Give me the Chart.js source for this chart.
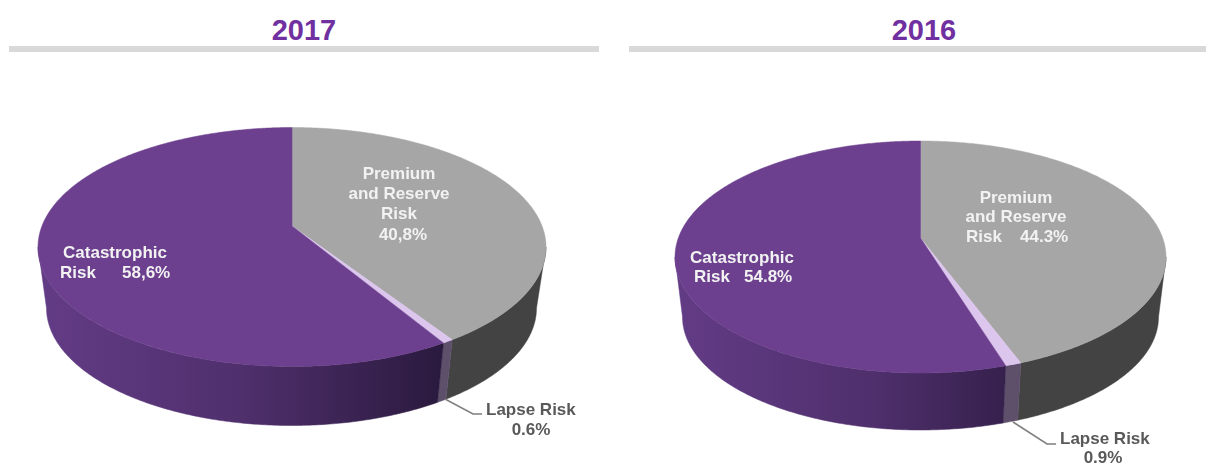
<!DOCTYPE html>
<html>
<head>
<meta charset="utf-8">
<title>Risk breakdown</title>
<script src="https://cdn.jsdelivr.net/npm/chart.js@4"></script>
<style>
  html, body { margin: 0; padding: 0; background: #fff; overflow: hidden; }
  body { width: 1206px; height: 463px; position: relative; font-family: "Liberation Sans", Arial, sans-serif; }
  .year { position: absolute; top: 12px; color: #7030a0; font-size: 29px; font-weight: bold; line-height: 36px; text-align: center; }
  .rule { position: absolute; top: 46px; height: 6px; background: #d9d9d9; }
  canvas { position: absolute; top: 0; }
</style>
</head>
<body>
<div class="year" style="left:9px;width:590px">2017</div>
<div class="rule" style="left:9px;width:590px"></div>
<div class="year" style="left:629px;width:590px">2016</div>
<div class="rule" style="left:629px;width:577px"></div>
<canvas id="pie2017"></canvas>
<canvas id="pie2016"></canvas>
<script>
const categories = ["Premium and Reserve Risk", "Lapse Risk", "Catastrophic Risk"];
const values2017 = [40.8, 0.6, 58.6];
const values2016 = [44.3, 0.9, 54.8];

const topColors = ["#a6a6a6", "#dcc6ee", "#6c408e"];
const sideColors = ["#434343", "#5e4f6b", null];
const purpleSideStops = [[0, "#623b85"], [0.4, "#4f2f6c"], [0.8, "#2b1a3f"], [1, "#2b1a3f"]];

const white = "#f2f2f2";
const grey = "#595959";

// top/bottom are the two faces of the disc, apex is how far the slice point sits above the ellipse centre
const layout2017 = {
  left: 0,
  width: 603,
  top: { cx: 292, cy: 247, rx: 254, ry: 119.5, apex: -21 },
  bottom: { cx: 291.5, cy: 308, rx: 245, ry: 117.5, apex: -20.6 },
  leader: [[445, 399], [473, 414], [482, 414]],
  labels: [
    { text: "Premium", x: 399, y: 179, align: "center", color: white },
    { text: "and Reserve", x: 399, y: 199, align: "center", color: white },
    { text: "Risk", x: 399, y: 219, align: "center", color: white },
    { text: "40,8%", x: 403, y: 240, align: "center", color: white },
    { text: "Catastrophic", x: 115, y: 258, align: "center", color: white },
    { text: "Risk", x: 60, y: 278, align: "left", color: white },
    { text: "58,6%", x: 122, y: 278, align: "left", color: white },
    { text: "Lapse Risk", x: 486, y: 415, align: "left", color: grey },
    { text: "0.6%", x: 531, y: 435, align: "center", color: grey },
  ],
};

const layout2016 = {
  left: 603,
  width: 603,
  top: { cx: 920.5, cy: 257, rx: 245.5, ry: 116, apex: -19 },
  bottom: { cx: 920.5, cy: 317, rx: 238, ry: 113, apex: -18.5 },
  leader: [[1013, 422], [1047, 444], [1056, 444]],
  labels: [
    { text: "Premium", x: 1016, y: 203, align: "center", color: white },
    { text: "and Reserve", x: 1016, y: 222, align: "center", color: white },
    { text: "Risk", x: 966, y: 242, align: "left", color: white },
    { text: "44.3%", x: 1020, y: 242, align: "left", color: white },
    { text: "Catastrophic", x: 742, y: 263, align: "center", color: white },
    { text: "Risk", x: 694, y: 282, align: "left", color: white },
    { text: "54.8%", x: 744, y: 282, align: "left", color: white },
    { text: "Lapse Risk", x: 1060, y: 444, align: "left", color: grey },
    { text: "0.9%", x: 1103, y: 463, align: "center", color: grey },
  ],
};

// perspective map of a unit disc onto an ellipse, keeps slice edges straight
function project(face, angle) {
  const u = Math.cos(angle);
  const v = Math.sin(angle);
  const c = face.apex / face.ry;
  const w = 1 + c * v;
  return {
    x: face.cx + (face.rx * Math.sqrt(1 - c * c) * u) / w,
    y: face.cy + (face.ry * v + face.apex) / w,
  };
}

function steps(from, to) {
  const n = Math.max(2, Math.ceil((to - from) / 0.01));
  const out = [];
  for (let i = 0; i <= n; i++) out.push(from + ((to - from) * i) / n);
  return out;
}

function drawSide(ctx, view, arc, index) {
  const limit = Math.asin(-view.top.apex / view.top.ry);
  const from = Math.max(arc.startAngle, limit);
  const to = Math.min(arc.endAngle, Math.PI - limit);
  if (to <= from) return;

  let fill = sideColors[index];
  if (!fill) {
    fill = ctx.createLinearGradient(view.bottom.cx - view.bottom.rx, 0, view.bottom.cx + view.bottom.rx, 0);
    // the dark end sits on the right, so the stops run along x
    purpleSideStops.forEach(([at, color]) => fill.addColorStop(at, color));
  }

  const angles = steps(from, to);
  ctx.beginPath();
  angles.forEach((a, i) => {
    const p = project(view.top, a);
    if (i === 0) ctx.moveTo(p.x, p.y);
    else ctx.lineTo(p.x, p.y);
  });
  angles.reverse().forEach((a) => {
    const p = project(view.bottom, a);
    ctx.lineTo(p.x, p.y);
  });
  ctx.closePath();
  ctx.fillStyle = fill;
  ctx.strokeStyle = fill;
  ctx.lineWidth = 0.5;
  ctx.fill();
  ctx.stroke();
}

function drawTop(ctx, view, arc) {
  ctx.beginPath();
  ctx.moveTo(view.top.cx, view.top.cy + view.top.apex);
  steps(arc.startAngle, arc.endAngle).forEach((a) => {
    const p = project(view.top, a);
    ctx.lineTo(p.x, p.y);
  });
  ctx.closePath();
  ctx.fillStyle = arc.options.backgroundColor;
  ctx.strokeStyle = arc.options.backgroundColor;
  ctx.lineWidth = 0.5;
  ctx.fill();
  ctx.stroke();
}

const tiltedPie = {
  id: "tiltedPie",
  beforeDatasetDraw(chart, args, opts) {
    const ctx = chart.ctx;
    const view = opts.view;
    ctx.save();
    ctx.translate(-view.left, 0);
    args.meta.data.forEach((arc, i) => drawSide(ctx, view, arc, i));
    args.meta.data.forEach((arc) => drawTop(ctx, view, arc));

    ctx.beginPath();
    view.leader.forEach(([x, y], i) => (i === 0 ? ctx.moveTo(x, y) : ctx.lineTo(x, y)));
    ctx.strokeStyle = "#7f7f7f";
    ctx.lineWidth = 1.5;
    ctx.stroke();

    ctx.font = 'bold 17px "Liberation Sans", Arial, sans-serif';
    ctx.textBaseline = "alphabetic";
    view.labels.forEach((label) => {
      ctx.textAlign = label.align;
      ctx.fillStyle = label.color;
      ctx.fillText(label.text, label.x, label.y);
    });
    ctx.restore();
    return false;
  },
};

function buildPie(id, values, view) {
  const el = document.getElementById(id);
  el.style.left = `${view.left}px`;
  el.width = view.width;
  el.height = 463;
  return new Chart(el, {
    type: "pie",
    data: {
      labels: categories,
      datasets: [{ data: values, backgroundColor: topColors, borderWidth: 0 }],
    },
    options: {
      responsive: false,
      animation: false,
      plugins: {
        legend: { display: false },
        tooltip: { enabled: false },
        tiltedPie: { view },
      },
    },
    plugins: [tiltedPie],
  });
}

buildPie("pie2017", values2017, layout2017);
buildPie("pie2016", values2016, layout2016);
</script>
</body>
</html>
